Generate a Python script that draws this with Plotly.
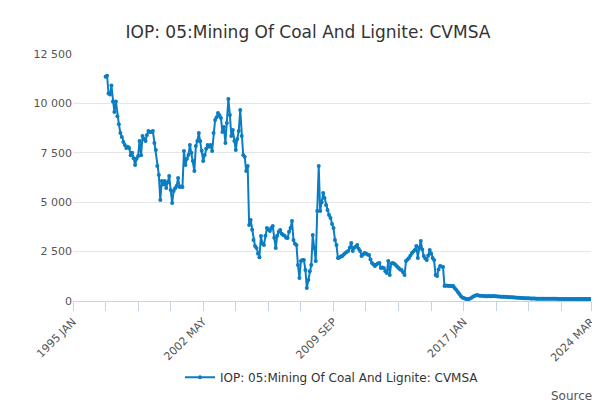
import pandas as pd
import plotly.graph_objects as go

SERIES_NAME = "IOP: 05:Mining Of Coal And Lignite: CVMSA"
START_MONTH = "1996-11-01"

values = [
    11350, 11400,
    10500, 10450, 10900, 10100, 9560, 10100, 9350, 8950, 8500, 8300, 8050, 7900,  # 1997
    7740, 7800, 7740, 7380, 7500, 7230, 6880, 7200, 7340, 8100, 7380, 8350,  # 1998
    8200, 8100, 8400, 8600, 8550, 8550, 8600, 8000, 7640, 6830, 6380, 5110,  # 1999
    6070, 5900, 6070, 5720, 6000, 6320, 5620, 4960, 5570, 5700, 5820, 6220,  # 2000
    5770, 5800, 5770, 7590, 6880, 7200, 7390, 7900, 7500, 7090, 6580, 7840,  # 2001
    8100, 8500, 8100, 7600, 7090, 7390, 7700, 7900, 7800, 7900, 7590, 8500,  # 2002
    9160, 9300, 9510, 9400, 9260, 8550, 8800, 8000, 9010, 10220, 9410, 8350,  # 2003
    8650, 8100, 7640, 8200, 8600, 9670, 8350, 7390, 7300, 6580, 6830, 3850,  # 2004
    4100, 3600, 3090, 2780, 2680, 2400, 2220, 3290, 2900, 2830, 3300, 3690,  # 2005
    3600, 3540, 3700, 3800, 3200, 2680, 3300, 3500, 3590, 3400, 3340, 3300,  # 2006
    3200, 3190, 3500, 3690, 4050, 3090, 2900, 2830, 1820, 1160, 2020, 2070,  # 2007
    2070, 1570, 660, 1060, 1500, 1820, 3340, 2680, 2020, 4560, 6830, 4560,  # 2008
    5000, 5470, 5210, 4860, 4600, 4350, 4200, 3900, 3690, 3090, 2830, 2180,  # 2009
    2200, 2250, 2280, 2350, 2430, 2480, 2530, 2700, 2930, 2530, 2700, 2750,  # 2010
    2830, 2650, 2530, 2280, 2350, 2430, 2400, 2350, 2330, 2100, 1920, 1850,  # 2011
    1770, 1850, 1900, 1920, 1670, 1700, 1670, 1500, 1420, 2020, 1320, 1900,  # 2012
    1920, 1880, 1820, 1750, 1670, 1600, 1570, 1450, 1320, 2020, 2100, 2180,  # 2013
    2300, 2430, 2500, 2580, 2780, 2180, 2700, 3040, 2600, 2280, 2150, 2070,  # 2014
    2300, 2580, 2400, 2180, 2070, 1320, 1260, 1600, 1770, 1750, 1720, 760,  # 2015
    780, 770, 760, 770, 750, 760, 650, 560, 450, 350, 250, 180,  # 2016
    150, 120, 100, 100, 120, 150, 200, 250, 280, 300, 280, 270,  # 2017
    260, 250, 250, 245, 240, 250, 245, 240, 250, 240, 235, 230,  # 2018
    225, 220, 215, 210, 210, 200, 200, 195, 190, 185, 180, 175,  # 2019
    170, 165, 160, 150, 150, 145, 140, 140, 135, 130, 130, 125,  # 2020
    125, 120, 120, 120, 118, 116, 115, 114, 112, 112, 110, 110,  # 2021
    110, 110, 108, 108, 106, 106, 105, 105, 104, 104, 103, 103,  # 2022
    102, 102, 101, 101, 100, 100, 100, 100, 100, 100, 100, 100,  # 2023
    100, 100, 100,  # 2024
]

tick_dates = ["1995-01-01", "2002-05-01", "2009-09-01", "2017-01-01", "2024-03-01"]
tick_labels = ["1995 JAN", "2002 MAY", "2009 SEP", "2017 JAN", "2024 MAR"]
minor_dates = pd.date_range("1995-01-01", "2024-03-01", freq="22MS")

dates = pd.date_range(START_MONTH, periods=len(values), freq="MS")

fig = go.Figure()
fig.add_trace(
    go.Scatter(
        x=dates,
        y=values,
        name=SERIES_NAME,
        mode="lines+markers",
        line={"color": "#0b7dc2", "width": 2},
        marker={"color": "#0b7dc2", "size": 4},
    )
)

fig.update_layout(
    width=600,
    height=400,
    paper_bgcolor="white",
    plot_bgcolor="white",
    font={"family": "DejaVu Sans", "color": "#555"},
    separators=". ",
    title={"text": SERIES_NAME, "x": 0.5, "y": 0.955, "xanchor": "center",
           "font": {"size": 17, "color": "#333"}},
    margin={"l": 65, "r": 17, "t": 46, "b": 107},
    showlegend=True,
    legend={"orientation": "h", "x": 0.5, "xanchor": "center", "y": -0.25,
            "yanchor": "top", "font": {"size": 12, "color": "#333"}},
    annotations=[{
        "text": "Source:", "xref": "paper", "yref": "paper", "x": 1.014, "y": -0.35,
        "xanchor": "right", "yanchor": "top", "showarrow": False,
        "font": {"size": 12, "color": "#555"},
    }],
)
fig.update_xaxes(
    type="date",
    automargin=False,
    range=["1995-01-01", "2024-03-01"],
    tickvals=tick_dates,
    ticktext=tick_labels,
    tickangle=-45,
    ticks="outside",
    ticklen=9,
    tickcolor="#c5d3e8",
    showline=True,
    linecolor="#c5d3e8",
    showgrid=False,
    tickfont={"size": 11, "color": "#555"},
    minor={"tickvals": list(minor_dates), "ticks": "outside", "ticklen": 9,
           "tickcolor": "#c5d3e8", "showgrid": False},
)
fig.update_yaxes(
    automargin=False,
    range=[0, 12500],
    tickvals=[0, 2500, 5000, 7500, 10000, 12500],
    tickformat=",d",
    gridcolor="#e6e6e6",
    zeroline=False,
    tickfont={"size": 11, "color": "#555"},
)

fig.write_html("out.html")
